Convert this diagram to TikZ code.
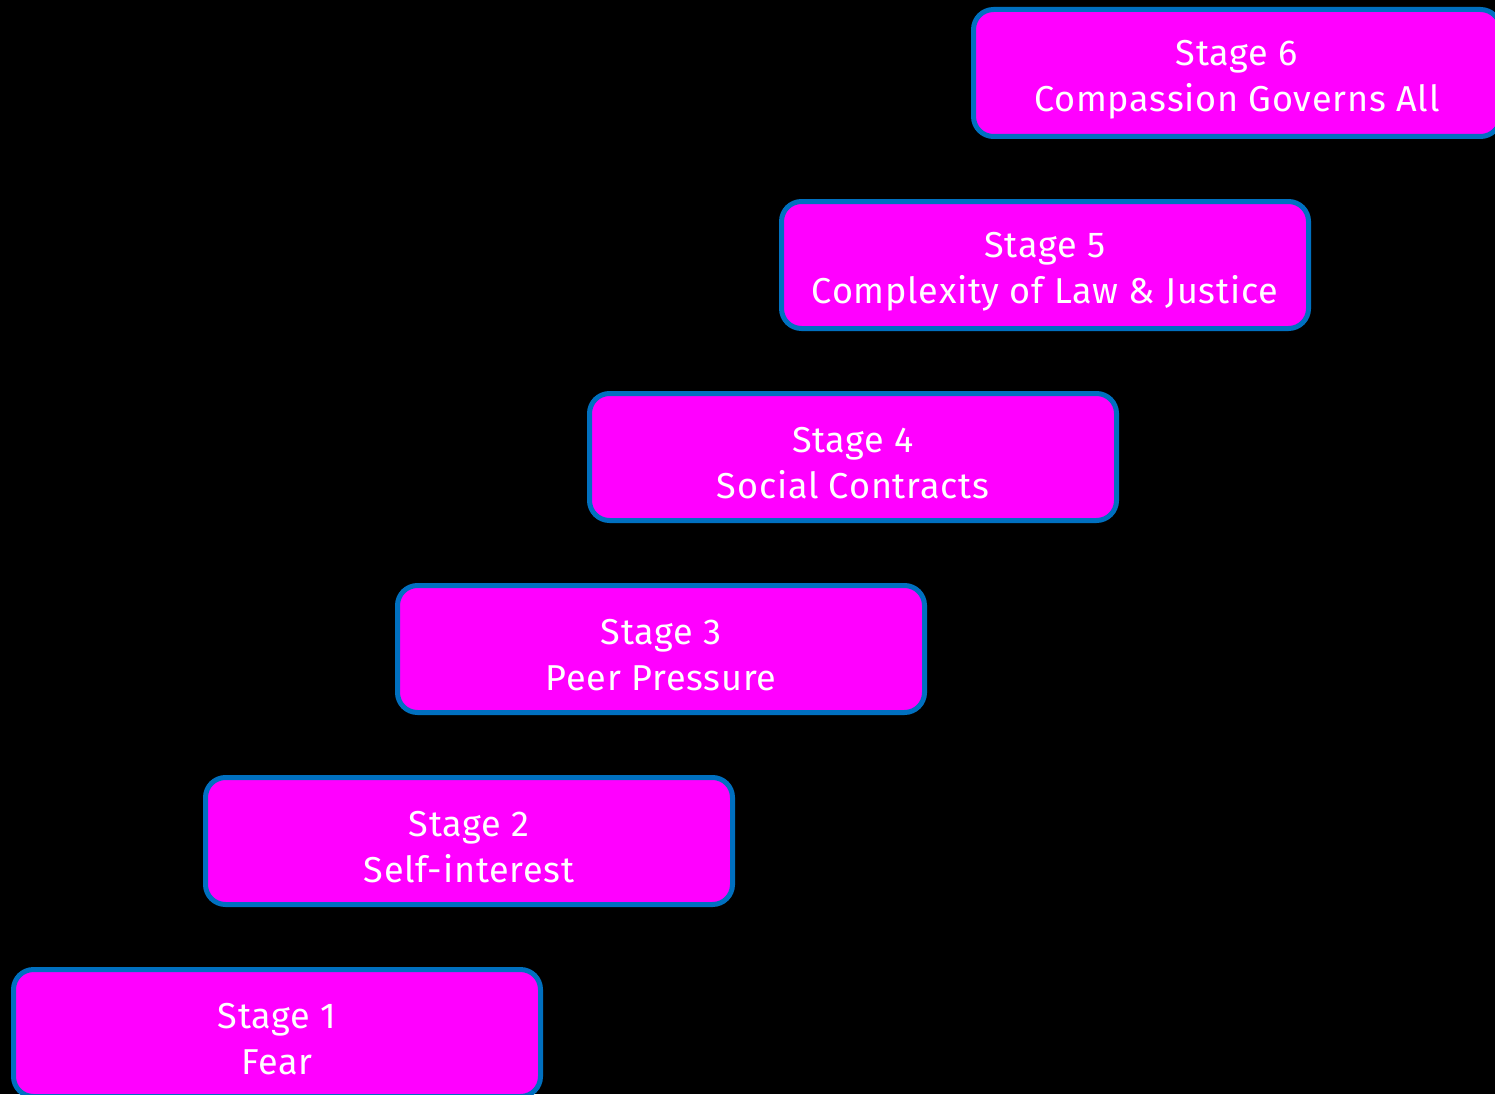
\documentclass[tikz,border=0pt]{standalone}
\usepackage{fontspec}
\setmainfont[LetterSpace=2.2]{Fira Sans}
\definecolor{stagefill}{HTML}{FF00FF}
\definecolor{stageline}{HTML}{0070C0}
\newcommand{\stagetext}[2]{\rule{0pt}{38pt}Stage #1\\#2}
\begin{document}
\begin{tikzpicture}[
	x=1pt, y=-1pt,
	stagebox/.style={rectangle,rounded corners=20pt,draw=stageline,fill=stagefill,
	line width=5pt,minimum width=527pt,minimum height=127pt,inner sep=0pt,
	text=white,align=center,font=\fontsize{36}{46}\selectfont},
	]
	\useasboundingbox (0,0) rectangle (1495,1094);
	\clip (0,0) rectangle (1495,1094);
	\fill[black] (0,0) rectangle (1495,1094);
	\node[stagebox] (s1) at (277,1033) {\stagetext{1}{Fear}};
	\node[stagebox] (s2) at (469,841) {\stagetext{2}{Self-interest}};
	\node[stagebox] (s3) at (661,649) {\stagetext{3}{Peer Pressure}};
	\node[stagebox] (s4) at (853,457) {\stagetext{4}{Social Contracts}};
	\node[stagebox] (s5) at (1045,265) {\stagetext{5}{Complexity of Law \& Justice}};
	\node[stagebox] (s6) at (1237,73) {\stagetext{6}{Compassion Governs All}};
\end{tikzpicture}
\end{document}
